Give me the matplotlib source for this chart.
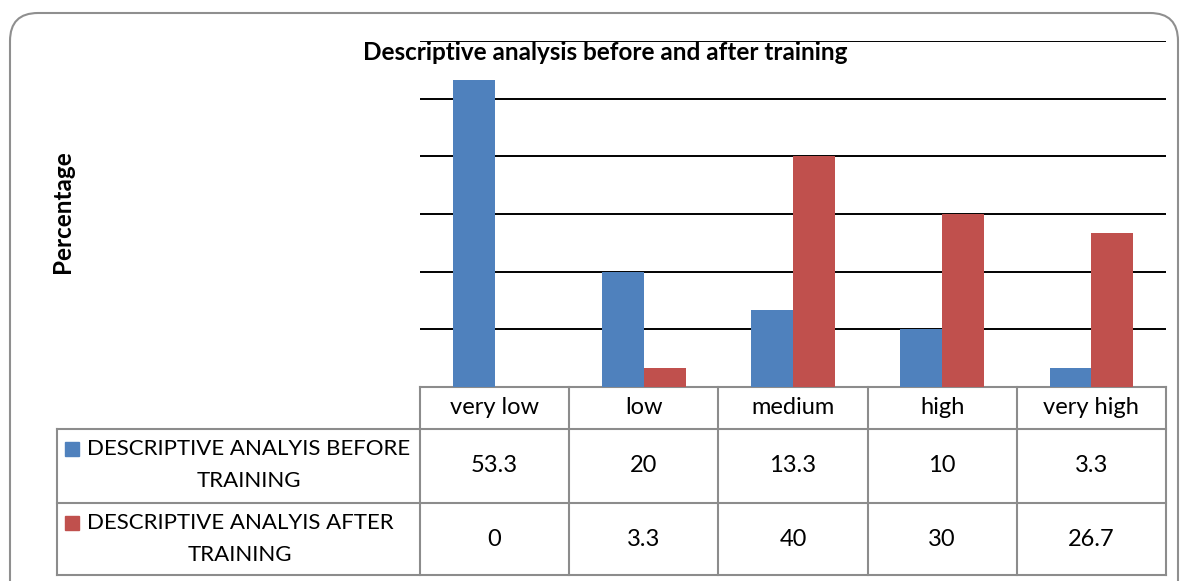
import matplotlib.pyplot as plt
from matplotlib.patches import FancyBboxPatch, Rectangle
import numpy as np

# dados do gráfico
categorias = ["very low", "low", "medium", "high", "very high"]
antes = [53.3, 20, 13.3, 10, 3.3]
depois = [0, 3.3, 40, 30, 26.7]
rotulo_antes = ["DESCRIPTIVE ANALYIS BEFORE", "TRAINING"]
rotulo_depois = ["DESCRIPTIVE ANALYIS AFTER", "TRAINING"]
titulo = "Descriptive analysis before and after training"

cor_antes = "#4F81BD"
cor_depois = "#C0504D"
cor_borda = "#8C8C8C"
fonte = "Lato"

W, H = 1182, 581
fig = plt.figure(figsize=(W / 100, H / 100), dpi=100)


def px(x0, y0, x1, y1):
    # converte pixels (origem no topo) para fração da figura
    return [x0 / W, 1 - y1 / H, (x1 - x0) / W, (y1 - y0) / H]


# camada de fundo em pixels para moldura e tabela
bg = fig.add_axes([0, 0, 1, 1])
bg.set_xlim(0, W)
bg.set_ylim(H, 0)
bg.axis("off")
bg.add_patch(FancyBboxPatch((10, 13), 1168, 600, boxstyle="round,pad=0,rounding_size=28",
                            fc="white", ec="#8F8F8F", lw=1.5, zorder=0))

# área do gráfico
x_esq, x_dir, y_top, y_base = 420, 1166, 41, 387
ax = fig.add_axes(px(x_esq, y_top, x_dir, y_base))
ax.set_facecolor("none")
x = np.arange(len(categorias))
larg = 0.28
ax.bar(x - larg / 2, antes, larg, color=cor_antes, zorder=3)
ax.bar(x + larg / 2, depois, larg, color=cor_depois, zorder=3)
ax.set_xlim(-0.5, len(categorias) - 0.5)
ax.set_ylim(0, 60)
for v in range(10, 61, 10):
    ax.axhline(v, color="black", lw=1.4, zorder=1)
ax.set_xticks([])
ax.set_yticks([])
for s in ax.spines.values():
    s.set_visible(False)

fig.text(605 / W, 1 - 52 / H, titulo, ha="center", va="center",
         fontsize=17.5, fontweight="bold", family=fonte)
fig.text(62 / W, 1 - 212 / H, "Percentage", ha="center", va="center",
         rotation=90, fontsize=17.5, fontweight="bold", family=fonte)

# tabela de dados
larg_col = (x_dir - x_esq) / len(categorias)
linhas_y = [387, 429, 503, 575]
x_tab = 57
kw = dict(color=cor_borda, lw=1.5, zorder=2)
bg.plot([x_esq, x_dir], [linhas_y[0], linhas_y[0]], **kw)
for yy in linhas_y[1:]:
    bg.plot([x_tab, x_dir], [yy, yy], **kw)
bg.plot([x_tab, x_tab], [linhas_y[1], linhas_y[3]], **kw)
for i in range(len(categorias) + 1):
    xx = x_esq + i * larg_col
    bg.plot([xx, xx], [linhas_y[0], linhas_y[3]], **kw)

for i, cat in enumerate(categorias):
    cx = x_esq + (i + 0.5) * larg_col
    bg.text(cx, 408, cat, ha="center", va="center", fontsize=17, family=fonte)
    bg.text(cx, 466, f"{antes[i]:g}", ha="center", va="center", fontsize=17, family=fonte)
    bg.text(cx, 540, f"{depois[i]:g}", ha="center", va="center", fontsize=17, family=fonte)

for rot, cor, y1, cx2 in [(rotulo_antes, cor_antes, 449, 249), (rotulo_depois, cor_depois, 523, 240)]:
    bg.add_patch(Rectangle((65, y1 - 7), 14, 14, color=cor, zorder=3))
    bg.text(87, y1, rot[0], ha="left", va="center", fontsize=16, family=fonte)
    bg.text(cx2, y1 + 32, rot[1], ha="center", va="center", fontsize=16, family=fonte)

plt.savefig("out.png", dpi=100)
